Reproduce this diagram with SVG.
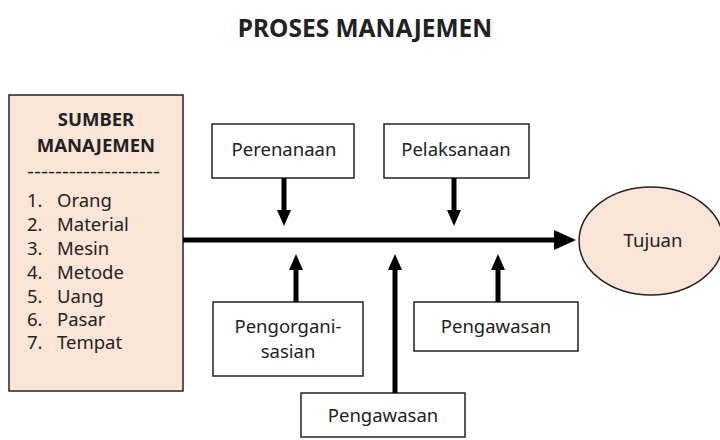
<svg xmlns="http://www.w3.org/2000/svg" width="720" height="440" viewBox="0 0 720 440">
<defs>
<style>
text{font-family:"Noto Sans","Open Sans","DejaVu Sans",sans-serif;fill:#222;}
.t{font-size:18.5px;}
.b{font-weight:bold;}
.box{fill:#fff;stroke:#222;stroke-width:1.5;}
.pk{fill:#fbe5d6;stroke:#222;stroke-width:1.5;}
.ar{stroke:#000;stroke-width:5;fill:none;}
</style>
<marker id="ah" markerUnits="userSpaceOnUse" markerWidth="24" markerHeight="24" viewBox="0 0 24 24" refX="4" refY="12" orient="auto">
<polygon points="0,2 22,12 0,22" fill="#000"/>
</marker>
<marker id="as" markerUnits="userSpaceOnUse" markerWidth="20" markerHeight="20" viewBox="0 0 20 20" refX="4" refY="10" orient="auto">
<polygon points="0,3 16,10 0,17" fill="#000"/>
</marker>
</defs>
<rect width="720" height="440" fill="#fff"/>
<text x="365" y="37" text-anchor="middle" class="b" style="font-size:24.5px">PROSES MANAJEMEN</text>

<g id="sumber">
<rect class="pk" x="9" y="95" width="174" height="296"/>
<text x="96" y="126" text-anchor="middle" class="t b">SUMBER</text>
<text x="96" y="152" text-anchor="middle" class="t b">MANAJEMEN</text>
<text x="27" y="178" class="t" textLength="133" lengthAdjust="spacingAndGlyphs">-------------------</text>
<g class="t">
<text x="27" y="207">1.</text><text x="57" y="207">Orang</text>
<text x="27" y="231">2.</text><text x="57" y="231">Material</text>
<text x="27" y="255">3.</text><text x="57" y="255">Mesin</text>
<text x="27" y="279">4.</text><text x="57" y="279">Metode</text>
<text x="27" y="303">5.</text><text x="57" y="303">Uang</text>
<text x="27" y="326">6.</text><text x="57" y="326">Pasar</text>
<text x="27" y="349">7.</text><text x="57" y="349">Tempat</text>
</g>
</g>

<g id="tujuan">
<ellipse class="pk" cx="651" cy="241" rx="72" ry="54"/>
<text x="653" y="247" text-anchor="middle" class="t">Tujuan</text>
</g>

<g id="perenanaan">
<rect class="box" x="212" y="124" width="142" height="54"/>
<text x="284" y="156" text-anchor="middle" class="t">Perenanaan</text>
</g>
<g id="pelaksanaan">
<rect class="box" x="384" y="124" width="145" height="54"/>
<text x="456" y="156" text-anchor="middle" class="t">Pelaksanaan</text>
</g>
<g id="pengorganisasian">
<rect class="box" x="213" y="302" width="150" height="74"/>
<text x="288" y="333" text-anchor="middle" class="t">Pengorgani-</text>
<text x="288" y="358" text-anchor="middle" class="t">sasian</text>
</g>
<g id="pengawasan1">
<rect class="box" x="414" y="302" width="164" height="49"/>
<text x="496" y="333" text-anchor="middle" class="t">Pengawasan</text>
</g>
<g id="pengawasan2">
<rect class="box" x="301" y="393" width="164" height="44"/>
<text x="383" y="422" text-anchor="middle" class="t">Pengawasan</text>
</g>

<g id="connectors">
<line class="ar" x1="183" y1="240" x2="558" y2="240" marker-end="url(#ah)"/>
<line class="ar" x1="284" y1="178" x2="284" y2="214" marker-end="url(#as)"/>
<line class="ar" x1="454" y1="178" x2="454" y2="214" marker-end="url(#as)"/>
<line class="ar" x1="296" y1="302" x2="296" y2="266" marker-end="url(#as)"/>
<line class="ar" x1="395" y1="393" x2="395" y2="266" marker-end="url(#as)"/>
<line class="ar" x1="498" y1="302" x2="498" y2="266" marker-end="url(#as)"/>
</g>
</svg>
